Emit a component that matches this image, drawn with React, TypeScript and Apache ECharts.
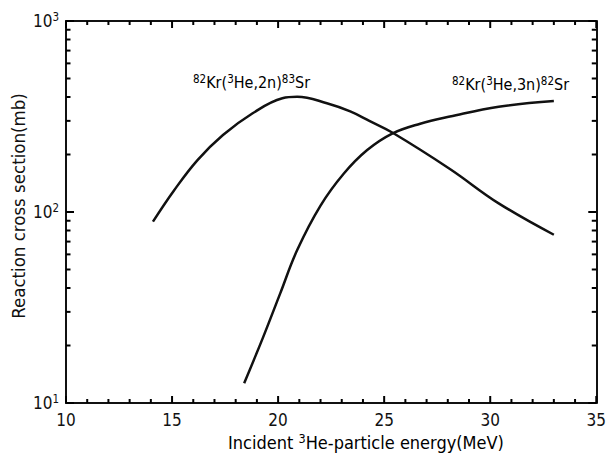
import React, { useEffect, useRef } from "react";
import * as echarts from "echarts";

const energy2n = [14.1, 15.1, 16.2, 17.4, 18.8, 20.2, 20.9, 22.3, 23.4, 24.3, 25.4, 28.1, 30.4, 33.0];
const sigma2n = [89, 130, 187, 253, 329, 394, 401, 371, 336, 300, 260, 168, 111, 76];

const energy3n = [18.4, 19.3, 20.1, 20.9, 22.0, 23.1, 24.2, 25.4, 26.7, 28.1, 30.4, 33.0];
const sigma3n = [12.7, 22.2, 37.5, 63.2, 108, 159, 211, 258, 290, 316, 356, 381];

const xRange = { min: 10, max: 35, interval: 5 };
const yRange = { min: 10, max: 1000 };
const xMajorTicks = [10, 15, 20, 25, 30, 35];
const xMinorTicks = [11, 12, 13, 14, 16, 17, 18, 19, 21, 22, 23, 24, 26, 27, 28, 29, 31, 32, 33, 34];
const yMajorTicks = [10, 100, 1000];
const yMinorTicks = [20, 30, 40, 50, 60, 70, 80, 90, 200, 300, 400, 500, 600, 700, 800, 900];

const label2n = ["82", "Kr(", "3", "He,2n)", "83", "Sr"];
const label3n = ["82", "Kr(", "3", "He,3n)", "82", "Sr"];
const xName = ["Incident ", "3", "He-particle energy(MeV)"];
const yName = "Reaction cross section(mb)";

const FONT = "'DejaVu Sans Condensed', 'DejaVu Sans'";
const INK = "#111";

const richSup = (size: number, sup: number) => ({
  n: { fontFamily: FONT, fontSize: size, color: INK, lineHeight: size + 3 },
  s: { fontFamily: FONT, fontSize: sup, color: INK, verticalAlign: "top", lineHeight: size + 3 },
});

function supText(parts: string[], supFirst: boolean) {
  return parts
    .map((p, i) => {
      const isSup = supFirst ? i % 2 === 0 : i % 2 === 1;
      return `{${isSup ? "s" : "n"}|${p}}`;
    })
    .join("");
}

// Ticks drawn inward from an axis edge, positioned by the chart's own scales.
function tickSeries(values: number[], dim: "x" | "y", at: number, dir: number, len: number) {
  return {
    type: "custom",
    coordinateSystem: "cartesian2d",
    silent: true,
    data: values.map((v) => (dim === "x" ? [v, at] : [at, v])),
    renderItem: (params: any, api: any) => {
      const p = api.coord([api.value(0), api.value(1)]);
      const shape =
        dim === "x"
          ? { x1: p[0], y1: p[1], x2: p[0], y2: p[1] + dir * len }
          : { x1: p[0], y1: p[1], x2: p[0] + dir * len, y2: p[1] };
      return { type: "line", shape, style: { stroke: "#000", lineWidth: 2 } };
    },
  };
}

export default function App() {
  const ref = useRef<HTMLDivElement>(null);
  useEffect(() => {
    if (!ref.current) return;
    const chart = echarts.init(ref.current, undefined, { renderer: "svg" });
    const axisLine = { show: true, onZero: false, lineStyle: { color: INK, width: 2 } };
    const xBase = {
      type: "value",
      min: xRange.min,
      max: xRange.max,
      interval: xRange.interval,
      axisLine,
      axisTick: { show: false },
      splitLine: { show: false },
    };
    const yBase = {
      type: "log",
      logBase: 10,
      min: yRange.min,
      max: yRange.max,
      axisLine,
      axisTick: { show: false },
      splitLine: { show: false },
    };
    const option: any = {
      animation: false,
      backgroundColor: "#fff",
      grid: { left: 66, right: 10, top: 21, bottom: 51, containLabel: false },
      xAxis: [
        {
          ...xBase,
          position: "bottom",
          axisLabel: { color: INK, fontFamily: FONT, fontSize: 17, margin: 8 },
        },
        { ...xBase, position: "top", axisLabel: { show: false } },
      ],
      yAxis: [
        {
          ...yBase,
          position: "left",
          axisLabel: {
            margin: 7,
            formatter: (v: number) => `{n|10}{s|${Math.round(Math.log10(v))}}`,
            rich: richSup(17, 11.5),
          },
        },
        { ...yBase, position: "right", axisLabel: { show: false } },
      ],
      graphic: [
        {
          type: "text",
          left: 193,
          top: 73,
          style: { text: supText(label2n, true), rich: richSup(16, 11.5) },
        },
        {
          type: "text",
          left: 452,
          top: 75,
          style: { text: supText(label3n, true), rich: richSup(16, 11.5) },
        },
        {
          type: "text",
          x: 366,
          y: 442,
          style: { text: supText(xName, false), rich: richSup(18, 12.5), align: "center", verticalAlign: "middle" },
        },
        {
          type: "text",
          x: 18,
          y: 206,
          rotation: Math.PI / 2,
          style: { text: yName, fontFamily: FONT, fontSize: 18.5, fill: INK, align: "center", verticalAlign: "middle" },
        },
      ],
      series: [
        {
          type: "line",
          data: energy2n.map((x, i) => [x, sigma2n[i]]),
          smooth: 0.4,
          showSymbol: false,
          lineStyle: { color: INK, width: 2.5 },
        },
        {
          type: "line",
          data: energy3n.map((x, i) => [x, sigma3n[i]]),
          smooth: 0.4,
          showSymbol: false,
          lineStyle: { color: INK, width: 2.5 },
        },
        tickSeries(xMajorTicks, "x", yRange.min, -1, 7),
        tickSeries(xMinorTicks, "x", yRange.min, -1, 4),
        tickSeries(xMajorTicks, "x", yRange.max, 1, 7),
        tickSeries(xMinorTicks, "x", yRange.max, 1, 4),
        tickSeries(yMajorTicks, "y", xRange.min, 1, 8),
        tickSeries(yMinorTicks, "y", xRange.min, 1, 4.5),
        tickSeries(yMajorTicks, "y", xRange.max, -1, 8),
        tickSeries(yMinorTicks, "y", xRange.max, -1, 4.5),
      ],
    };
    chart.setOption(option);
    return () => chart.dispose();
  }, []);
  return <div ref={ref} style={{ width: 609, height: 454, position: "absolute", left: 0, top: 0 }} />;
}
